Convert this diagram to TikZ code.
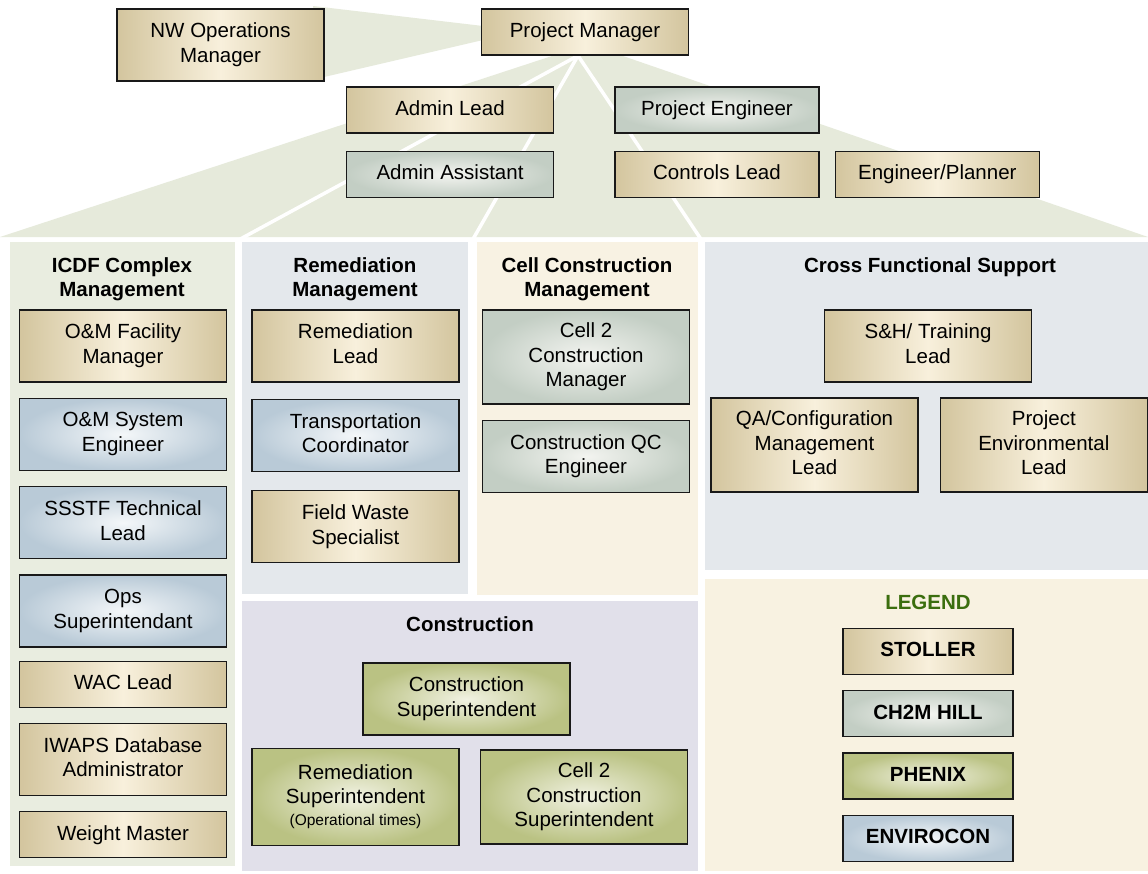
\documentclass[tikz,border=0pt]{standalone}
\usepackage{fontspec}
\setmainfont{Liberation Sans}
\usetikzlibrary{positioning, backgrounds, calc}

\definecolor{fanGreen}{HTML}{E6EADB}
\definecolor{icdfBg}{HTML}{E9EDE0}
\definecolor{remBg}{HTML}{E4E8EC}
\definecolor{cellBg}{HTML}{F8F2E3}
\definecolor{consBg}{HTML}{E1E0EA}
\definecolor{legendBg}{HTML}{F8F2E1}
\definecolor{legendGreen}{HTML}{3B6E0E}
\definecolor{stollerEdge}{HTML}{D3C59E}
\definecolor{stollerMid}{HTML}{F8F0DC}
\definecolor{chillEdge}{HTML}{C3CEC4}
\definecolor{chillMid}{HTML}{F3F4F0}
\definecolor{phenixEdge}{HTML}{BAC283}
\definecolor{phenixMid}{HTML}{F1F2E2}
\definecolor{enviroEdge}{HTML}{B9CAD7}
\definecolor{enviroMid}{HTML}{F4F7F9}

\newcommand{\rolestrut}{\rule[-4.5pt]{0pt}{19.5pt}}

\begin{document}
\begin{tikzpicture}[
    x=1pt, y=-1pt,
    node distance=15pt,
    font=\fontsize{20.5}{24.5}\selectfont,
    role/.style={rectangle, draw=black!90, line width=1.3pt, align=center,
                 minimum width=207pt, minimum height=46pt, inner sep=2pt,
                 execute at begin node=\rolestrut, execute at end node=\rolestrut},
    tall/.style={minimum height=72pt},
    taller/.style={minimum height=94pt},
    stoller/.style={role, left color=stollerEdge, right color=stollerEdge,
                    middle color=stollerMid},
    chill/.style={role, inner color=chillMid, outer color=chillEdge},
    phenix/.style={role, inner color=phenixMid, outer color=phenixEdge},
    enviro/.style={role, inner color=enviroMid, outer color=enviroEdge},
    heading/.style={font=\fontsize{20.5}{24.5}\selectfont\bfseries, align=center},
    legendkey/.style={minimum width=170pt, font=\fontsize{20.5}{24.5}\selectfont\bfseries},
    spoke/.style={white, line width=3.5pt},
  ]
    \useasboundingbox (0,0) rectangle (1148,873);

    % top of the chart
    \node[stoller, tall] (nwops) at (220.5,45) {NW Operations\\Manager};
    \node[stoller] (pm) at (585,32) {Project Manager};
    \node[stoller] (adminlead) at (450,110) {Admin Lead};
    \node[chill, below=17pt of adminlead] (adminasst) {Admin Assistant};
    \node[chill, minimum width=204pt] (projeng) at (717,110) {Project Engineer};
    \node[stoller, minimum width=204pt, below=17pt of projeng] (ctrllead) {Controls Lead};
    \node[stoller, minimum width=204pt, right=15pt of ctrllead] (engplan) {Engineer/Planner};

    % group headings
    \node[heading] (icdfhead) at (122,279) {ICDF Complex\\Management};
    \node[heading] (remhead) at (355,279) {Remediation\\Management};
    \node[heading] (cellhead) at (587,279) {Cell Construction\\Management};
    \node[heading] (crosshead) at (930,267) {Cross Functional Support};
    \node[heading] (conshead) at (470,624.5) {Construction};
    \node[heading, text=legendGreen] (legendhead) at (928,602.5) {LEGEND};

    % ICDF complex management
    \node[stoller, tall] (omfac) at (123,346) {O\&M Facility\\Manager};
    \node[enviro, tall, below=of omfac] (omsys) {O\&M System\\Engineer};
    \node[enviro, tall, below=of omsys] (ssstf) {SSSTF Technical\\Lead};
    \node[enviro, tall, below=of ssstf] (opssup) {Ops\\Superintendant};
    \node[stoller, below=13pt of opssup] (wac) {WAC Lead};
    \node[stoller, tall, below=of wac] (iwaps) {IWAPS Database\\Administrator};
    \node[stoller, below=of iwaps] (weight) {Weight Master};

    % remediation management
    \node[stoller, tall] (remlead) at (355.5,346) {Remediation\\Lead};
    \node[enviro, tall, below=16pt of remlead] (transp) {Transportation\\Coordinator};
    \node[stoller, tall, below=18pt of transp] (fieldwaste) {Field Waste\\Specialist};

    % cell construction management
    \node[chill, taller] (celltwomgr) at (586,357) {Cell 2\\Construction\\Manager};
    \node[chill, tall, below=of celltwomgr] (qceng) {Construction QC\\Engineer};

    % cross functional support
    \node[stoller, tall] (shtrain) at (928,346) {S\&H/ Training\\Lead};
    \node[stoller, taller] (qaconfig) at (814.5,445) {QA/Configuration\\Management\\Lead};
    \node[stoller, taller, right=21pt of qaconfig] (projenv) {Project\\Environmental\\Lead};

    % construction
    \node[phenix, tall] (conssup) at (466.5,699) {Construction\\Superintendent};
    \node[phenix, taller, minimum height=97pt] (remsup) at (355.5,797)
      {Remediation\\Superintendent\\[-3pt]{\fontsize{15.5}{18}\selectfont(Operational times)}};
    \node[phenix, taller] (celltwosup) at (584,797) {Cell 2\\Construction\\Superintendent};

    % legend
    \node[stoller, legendkey] (kstoller) at (928,651.5) {STOLLER};
    \node[chill, legendkey, below=of kstoller] (kchill) {CH2M HILL};
    \node[phenix, legendkey, below=of kchill] (kphenix) {PHENIX};
    \node[enviro, legendkey, below=of kphenix] (kenviro) {ENVIROCON};

    \begin{scope}[on background layer]
      \fill[white] (0,0) rectangle (1148,873);
      \fill[fanGreen] (313,6) -- (483,26) -- (483,40) -- (324,77) -- cycle;
      \fill[fanGreen] (555,55) -- (620,55) -- (1148,237) -- (0,237) -- cycle;

      \coordinate (hub) at ([xshift=-7pt]pm.south);
      \coordinate (gapA) at (238.5,240);
      \coordinate (gapB) at (472.5,240);
      \coordinate (gapC) at (701.5,240);
      \draw[spoke] (hub) -- (gapA);
      \draw[spoke] (hub) -- (gapB);
      \draw[spoke] (hub) -- (gapC);

      \fill[icdfBg] (10,242) rectangle (235,866);
      \fill[remBg] (242,242) rectangle (468,594);
      \fill[cellBg] (477,242) rectangle (698,595);
      \fill[remBg] (705,242) rectangle (1148,570);
      \fill[consBg] (242,601) rectangle (698,871);
      \fill[legendBg] (705,579) rectangle (1148,871);
    \end{scope}
  \end{tikzpicture}
\end{document}
